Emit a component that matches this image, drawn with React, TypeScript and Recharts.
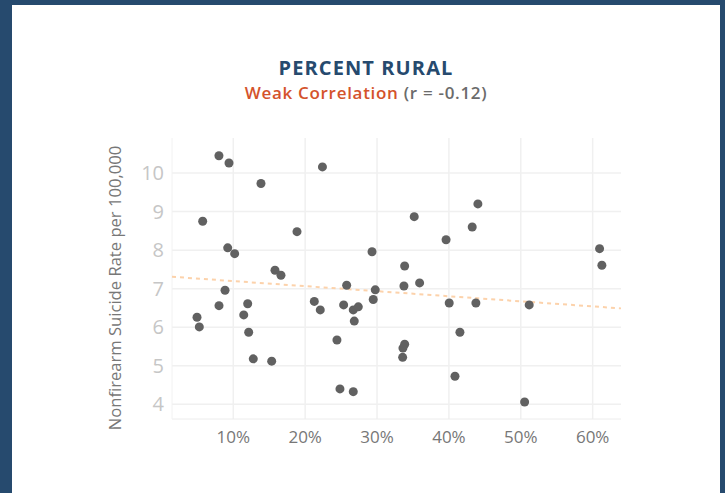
import React from 'react';
import { ScatterChart, Scatter, XAxis, YAxis, ReferenceLine } from 'recharts';

// percent of population living in rural areas, one value per state
const percentRural = [
  8.0, 9.4, 22.4, 13.85, 5.74, 18.86, 9.22, 10.19, 15.8, 16.63,
  25.77, 8.85, 8.01, 12.0, 11.45, 4.95, 5.27, 12.14, 12.78, 15.34,
  21.27, 22.1, 25.35, 26.69, 27.39, 26.83, 24.42, 24.84, 26.69, 39.6,
  29.3, 33.84, 29.75, 33.74, 35.92, 29.47, 40.04, 43.75, 41.53, 33.84,
  33.6, 33.56, 40.84, 44.03, 35.17, 43.24, 60.96, 61.28, 51.17, 50.53,
];

// nonfirearm suicide rate per 100,000, same order
const suicideRate = [
  10.45, 10.26, 10.16, 9.73, 8.75, 8.48, 8.06, 7.91, 7.48, 7.35,
  7.09, 6.96, 6.56, 6.61, 6.32, 6.26, 6.01, 5.87, 5.18, 5.12,
  6.67, 6.45, 6.58, 6.45, 6.53, 6.16, 5.67, 4.4, 4.33, 8.27,
  7.96, 7.59, 6.97, 7.07, 7.15, 6.72, 6.63, 6.63, 5.87, 5.56,
  5.46, 5.22, 4.73, 9.2, 8.87, 8.6, 8.04, 7.61, 6.58, 4.06,
];

const trendX = [1.47, 63.94];
const trendY = [7.31, 6.49];

const xTicks = [10, 20, 30, 40, 50, 60];
const yTicks = [4, 5, 6, 7, 8, 9, 10];

const points = percentRural.map((x, i) => ({ x, y: suicideRate[i] }));
const trend = trendX.map((x, i) => ({ x, y: trendY[i] }));

const FONT = '"Open Sans", "Noto Sans", sans-serif';
const GRID = '#f0f0f0';

export default function App() {
  return (
    <div
      style={{
        position: 'absolute',
        left: 0,
        top: 0,
        width: 725,
        height: 493,
        background: '#264a6e',
        fontFamily: FONT,
      }}
    >
      <div
        style={{
          position: 'absolute',
          left: 12,
          top: 5,
          width: 708,
          height: 488,
          background: '#ffffff',
        }}
      />
      <div
        style={{
          position: 'absolute',
          left: 12,
          width: 708,
          top: 54,
          textAlign: 'center',
          fontWeight: 700,
          fontSize: 20,
          color: '#264a6e',
          letterSpacing: 1.1,
        }}
      >
        PERCENT RURAL
      </div>
      <div
        style={{
          position: 'absolute',
          left: 12,
          width: 708,
          top: 81,
          textAlign: 'center',
          fontWeight: 600,
          fontSize: 17,
          letterSpacing: 0.7,
        }}
      >
        <span style={{ color: '#d4532c' }}>Weak Correlation</span>
        <span style={{ color: '#6b6b6b' }}> (r = -0.12)</span>
      </div>
      <div
        style={{
          position: 'absolute',
          left: 115,
          top: 288,
          transform: 'translate(-50%, -50%) rotate(-90deg)',
          whiteSpace: 'nowrap',
          fontSize: 16.6,
          color: '#777777',
          lineHeight: 1,
        }}
      >
        Nonfirearm Suicide Rate per 100,000
      </div>
      <div style={{ position: 'absolute', left: 0, top: 0 }}>
        <ScatterChart
          width={725}
          height={493}
          margin={{ top: 138, right: 104, bottom: 0, left: 112 }}
        >
          <XAxis
            type="number"
            dataKey="x"
            domain={[1.47, 63.94]}
            ticks={xTicks}
            tickFormatter={(v) => `${v}%`}
            height={74}
            tickLine={false}
            tickMargin={6}
            axisLine={{ stroke: '#ececec' }}
            tick={{ fill: '#777777', fontSize: 17, fontFamily: FONT }}
          />
          <YAxis
            type="number"
            dataKey="y"
            domain={[3.62, 10.91]}
            ticks={yTicks}
            width={60}
            tickLine={false}
            axisLine={{ stroke: '#f2f2f2' }}
            tick={{ fill: '#c6c6c6', fontSize: 20, fontFamily: FONT }}
          />
          {yTicks.map((t) => (
            <ReferenceLine key={`y${t}`} y={t} stroke={GRID} strokeWidth={1.5} />
          ))}
          {xTicks.map((t) => (
            <ReferenceLine key={`x${t}`} x={t} stroke={GRID} strokeWidth={1.5} />
          ))}
          <Scatter
            data={trend}
            line={{ stroke: '#fcd2ab', strokeWidth: 2, strokeDasharray: '4 4' }}
            shape={() => <g />}
            isAnimationActive={false}
          />
          <Scatter
            data={points}
            fill="#616161"
            shape={(props: any) => (
              <circle cx={props.cx} cy={props.cy} r={4.5} fill="#616161" />
            )}
            isAnimationActive={false}
          />
        </ScatterChart>
      </div>
    </div>
  );
}
